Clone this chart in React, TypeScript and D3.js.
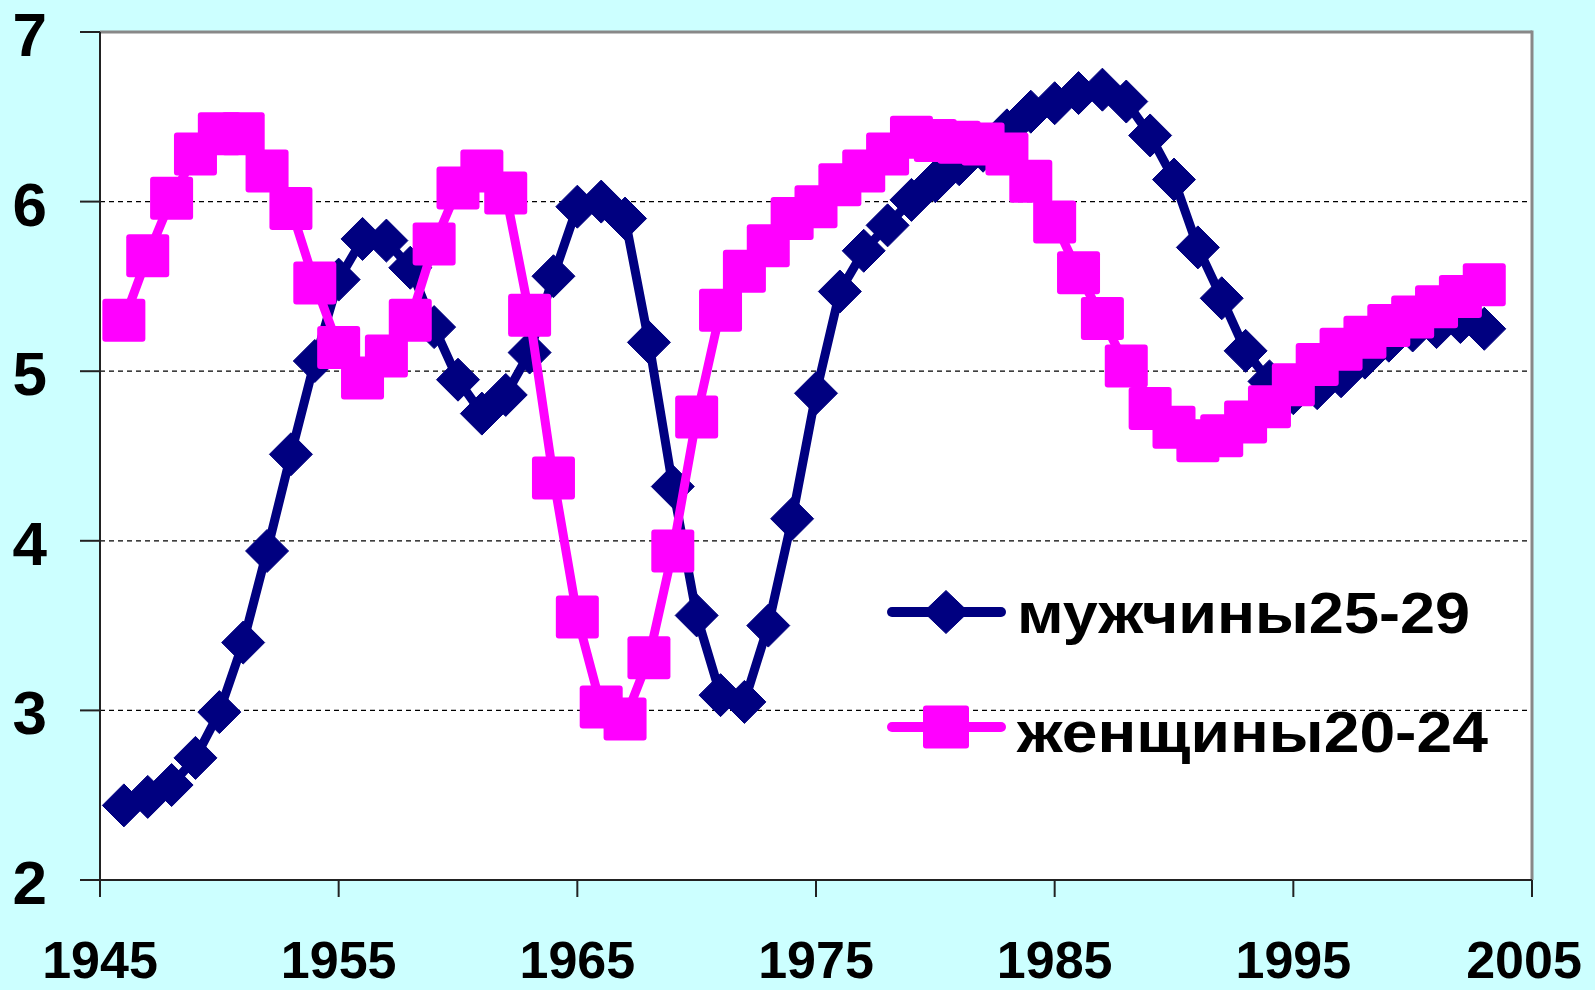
import React from 'react';
import * as d3 from 'd3';

const years = [
  1946, 1947, 1948, 1949, 1950, 1951, 1952, 1953, 1954, 1955,
  1956, 1957, 1958, 1959, 1960, 1961, 1962, 1963, 1964, 1965,
  1966, 1967, 1968, 1969, 1970, 1971, 1972, 1973, 1974, 1975,
  1976, 1977, 1978, 1979, 1980, 1981, 1982, 1983, 1984, 1985,
  1986, 1987, 1988, 1989, 1990, 1991, 1992, 1993, 1994, 1995,
  1996, 1997, 1998, 1999, 2000, 2001, 2002, 2003,
];

const men = [
  2.44, 2.49, 2.56, 2.72, 2.99, 3.40, 3.94, 4.51, 5.06, 5.54,
  5.78, 5.77, 5.61, 5.26, 4.95, 4.75, 4.86, 5.11, 5.56, 5.97,
  6.00, 5.90, 5.17, 4.32, 3.56, 3.09, 3.05, 3.50, 4.13, 4.87,
  5.47, 5.71, 5.86, 6.01, 6.12, 6.22, 6.30, 6.42, 6.53, 6.58,
  6.64, 6.66, 6.59, 6.39, 6.13, 5.73, 5.43, 5.12, 4.94, 4.87,
  4.90, 4.97, 5.08, 5.18, 5.24, 5.26, 5.29, 5.25,
];

const women = [
  5.30, 5.68, 6.02, 6.28, 6.40, 6.40, 6.18, 5.96, 5.52, 5.14,
  4.96, 5.09, 5.30, 5.75, 6.08, 6.18, 6.05, 5.33, 4.37, 3.55,
  3.02, 2.95, 3.31, 3.94, 4.73, 5.36, 5.59, 5.74, 5.90, 5.97,
  6.10, 6.18, 6.28, 6.38, 6.36, 6.35, 6.34, 6.28, 6.12, 5.88,
  5.58, 5.31, 5.03, 4.78, 4.67, 4.59, 4.62, 4.70, 4.79, 4.92,
  5.04, 5.13, 5.20, 5.27, 5.32, 5.38, 5.44, 5.51,
];

const seriesNames = ['мужчины25-29', 'женщины20-24'];
const xTicks = [1945, 1955, 1965, 1975, 1985, 1995, 2005];
const yTicks = [2, 3, 4, 5, 6, 7];
const gridTicks = [3, 4, 5, 6];

const NAVY = '#000080';
const PINK = '#FF00FF';
const FONT = '"Liberation Sans", Arial, sans-serif';

export default function App() {
  const W = 1595;
  const H = 990;
  const L = 100, R = 1532, T = 32, B = 880;
  const x = d3.scaleLinear().domain([1945, 2005]).range([L, R]);
  const y = d3.scaleLinear().domain([2, 7]).range([B, T]);

  const line = d3
    .line<number>()
    .x((_, i) => x(years[i]))
    .y((d) => y(d));

  const diamond = (cx: number, cy: number, hw: number, hh: number) =>
    `M${cx},${cy - hh}L${cx + hw},${cy}L${cx},${cy + hh}L${cx - hw},${cy}Z`;

  const ms = 43;

  return (
    <svg
      width={W}
      height={H}
      style={{ position: 'absolute', left: 0, top: 0, display: 'block' }}
      fontFamily={FONT}
    >
      <rect x={0} y={0} width={W} height={H} fill="#CCFFFF" />
      <rect x={L} y={T} width={R - L} height={B - T} fill="#FFFFFF" />

      {/* grid */}
      {gridTicks.map((t) => (
        <line
          key={'g' + t}
          x1={L}
          x2={R - 2}
          y1={y(t)}
          y2={y(t)}
          stroke="#000"
          strokeWidth={1.3}
          strokeDasharray="5 4"
        />
      ))}

      {/* frame: top and right gray */}
      <line x1={L} x2={R} y1={T} y2={T} stroke="#888888" strokeWidth={3} />
      <line x1={R} x2={R} y1={T - 1.5} y2={B} stroke="#888888" strokeWidth={3} />

      {/* axes */}
      <line x1={L} x2={L} y1={T} y2={B + 17} stroke="#222" strokeWidth={2} />
      <line x1={L - 20} x2={R} y1={B} y2={B} stroke="#222" strokeWidth={2} />

      {yTicks.map((t) => (
        <g key={'y' + t}>
          <line x1={L - 20} x2={L} y1={y(t)} y2={y(t)} stroke="#222" strokeWidth={2} />
          <text
            x={47}
            y={y(t) + 24}
            textAnchor="end"
            fontSize={62}
            fontWeight="bold"
            fill="#000"
          >
            {t}
          </text>
        </g>
      ))}

      {xTicks.map((t, i) => (
        <g key={'x' + t}>
          <line x1={x(t)} x2={x(t)} y1={B} y2={B + 17} stroke="#222" strokeWidth={2} />
          <text
            x={i === xTicks.length - 1 ? x(t) - 8 : x(t)}
            y={978}
            textAnchor="middle"
            fontSize={52}
            fontWeight="bold"
            fill="#000"
          >
            {t}
          </text>
        </g>
      ))}

      {/* men series */}
      <path
        d={line(men) || ''}
        fill="none"
        stroke={NAVY}
        strokeWidth={9}
        strokeLinejoin="round"
      />
      {men.map((v, i) => (
        <path
          key={'m' + i}
          d={diamond(x(years[i]), y(v), ms / 2, ms / 2)}
          fill={NAVY}
          stroke={NAVY}
          strokeWidth={1}
          strokeLinejoin="round"
        />
      ))}

      {/* women series */}
      <path
        d={line(women) || ''}
        fill="none"
        stroke={PINK}
        strokeWidth={9}
        strokeLinejoin="round"
      />
      {women.map((v, i) => (
        <rect
          key={'w' + i}
          x={x(years[i]) - ms / 2}
          y={y(v) - ms / 2}
          width={ms}
          height={ms}
          rx={3}
          fill={PINK}
        />
      ))}

      {/* legend */}
      <g>
        <line x1={892} x2={1001} y1={612} y2={612} stroke={NAVY} strokeWidth={10} strokeLinecap="round" />
        <path d={diamond(946, 612, 22.5, 21.5)} fill={NAVY} stroke={NAVY} strokeWidth={1} strokeLinejoin="round" />
        <text
          x={1017}
          y={633}
          fontSize={57}
          fontWeight="bold"
          fill="#000"
          textLength={453}
          lengthAdjust="spacingAndGlyphs"
        >
          {seriesNames[0]}
        </text>

        <line x1={892} x2={1001} y1={727} y2={727} stroke={PINK} strokeWidth={10} strokeLinecap="round" />
        <rect x={946 - 23} y={727 - 21.5} width={46} height={43} rx={3} fill={PINK} />
        <text
          x={1017}
          y={752}
          fontSize={57}
          fontWeight="bold"
          fill="#000"
          textLength={471}
          lengthAdjust="spacingAndGlyphs"
        >
          {seriesNames[1]}
        </text>
      </g>
    </svg>
  );
}
